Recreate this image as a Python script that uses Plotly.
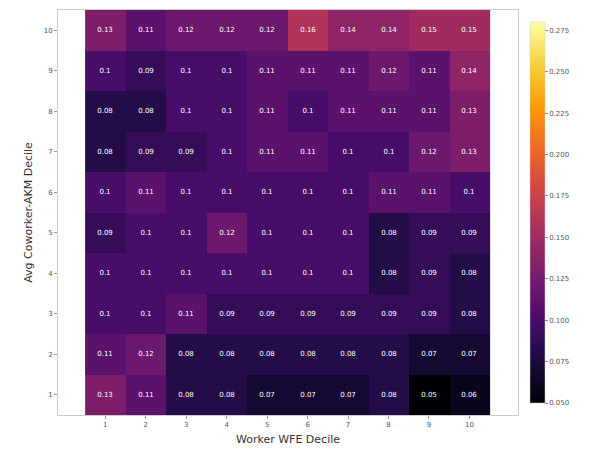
import plotly.graph_objects as go

x_deciles = [1, 2, 3, 4, 5, 6, 7, 8, 9, 10]
y_deciles = [1, 2, 3, 4, 5, 6, 7, 8, 9, 10]

# rows: y decile 1 .. 10 ; columns: x decile 1 .. 10
row_1 = [0.13, 0.11, 0.08, 0.08, 0.07, 0.07, 0.07, 0.08, 0.05, 0.06]
row_2 = [0.11, 0.12, 0.08, 0.08, 0.08, 0.08, 0.08, 0.08, 0.07, 0.07]
row_3 = [0.10, 0.10, 0.11, 0.09, 0.09, 0.09, 0.09, 0.09, 0.09, 0.08]
row_4 = [0.10, 0.10, 0.10, 0.10, 0.10, 0.10, 0.10, 0.08, 0.09, 0.08]
row_5 = [0.09, 0.10, 0.10, 0.12, 0.10, 0.10, 0.10, 0.08, 0.09, 0.09]
row_6 = [0.10, 0.11, 0.10, 0.10, 0.10, 0.10, 0.10, 0.11, 0.11, 0.10]
row_7 = [0.08, 0.09, 0.09, 0.10, 0.11, 0.11, 0.10, 0.10, 0.12, 0.13]
row_8 = [0.08, 0.08, 0.10, 0.10, 0.11, 0.10, 0.11, 0.11, 0.11, 0.13]
row_9 = [0.10, 0.09, 0.10, 0.10, 0.11, 0.11, 0.11, 0.12, 0.11, 0.14]
row_10 = [0.13, 0.11, 0.12, 0.12, 0.12, 0.16, 0.14, 0.14, 0.15, 0.15]

z = [row_1, row_2, row_3, row_4, row_5, row_6, row_7, row_8, row_9, row_10]
labels = [[f"{round(v, 2):g}" for v in r] for r in z]

colorbar_ticks = [0.050, 0.075, 0.100, 0.125, 0.150, 0.175, 0.200, 0.225, 0.250, 0.275]

fig = go.Figure(go.Heatmap(
    x=x_deciles, y=y_deciles, z=z,
    text=labels, texttemplate="%{text}",
    textfont=dict(size=7, color="white", family="DejaVu Sans"),
    colorscale="Inferno", zmin=0.05, zmax=0.28,
    xgap=0, ygap=0,
    colorbar=dict(
        thickness=15, len=401, lenmode="pixels", x=1.0, xanchor="left", xpad=12,
        y=0.5, yanchor="middle",
        tickvals=colorbar_ticks, ticktext=[f"{t:.3f}" for t in colorbar_ticks],
        tickfont=dict(size=7, color="#555"), ticks="outside", ticklen=3,
        tickcolor="#888", outlinewidth=0.5, outlinecolor="#ccc",
    ),
))

fig.update_layout(
    width=591, height=456,
    margin=dict(l=50, r=81, t=2, b=49),
    paper_bgcolor="white", plot_bgcolor="white",
    font=dict(family="DejaVu Sans", color="#333"),
    xaxis=dict(
        range=[-0.17, 11.2], tickvals=x_deciles, tickfont=dict(size=7, color="#555"),
        ticks="outside", ticklen=3, tickcolor="#999", automargin=False,
        showgrid=False, zeroline=False, showline=True, linecolor="#ccc", linewidth=1, mirror=True,
        title=dict(text="Worker WFE Decile", font=dict(size=11, color="#333"), standoff=6),
    ),
    yaxis=dict(
        range=[0.5, 10.5], tickvals=y_deciles, tickfont=dict(size=7, color="#555"),
        ticks="outside", ticklen=3, tickcolor="#999", automargin=False,
        showgrid=False, zeroline=False, showline=True, linecolor="#ccc", linewidth=1, mirror=True,
        title=dict(text="Avg Coworker-AKM Decile", font=dict(size=11, color="#333"), standoff=8),
    ),
)

fig.write_html("out.html")
